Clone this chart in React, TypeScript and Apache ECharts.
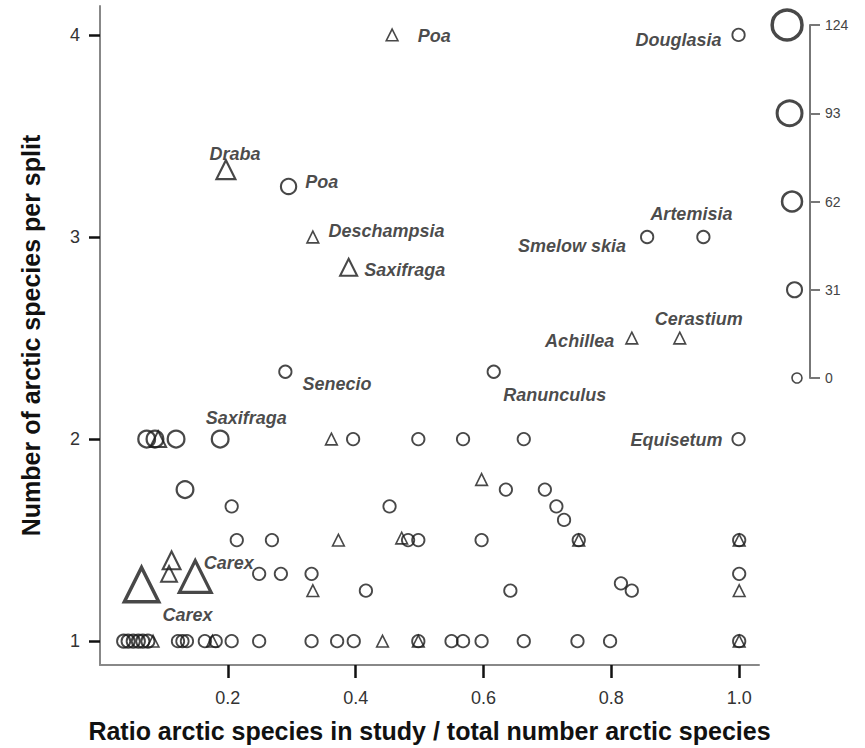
import React, { useEffect, useRef } from "react";
import * as echarts from "echarts";

// ---------- data (x = ratio, y = arctic species per split, n = size value) ----------
const circlePoints: [number, number, number][] = [
  [0.073, 2, 42], [0.086, 2, 42], [0.119, 2, 42], [0.396, 2, 15], [0.498, 2, 15], [0.568, 2, 15], [0.663, 2, 15],
  [0.133, 1.75, 42], [0.635, 1.75, 15], [0.696, 1.75, 15],
  [0.206, 1.667, 15], [0.453, 1.667, 15], [0.714, 1.667, 15],
  [0.726, 1.6, 15],
  [0.214, 1.5, 15], [0.269, 1.5, 15], [0.482, 1.5, 15], [0.498, 1.5, 15], [0.597, 1.5, 15], [0.749, 1.5, 15], [1.0, 1.5, 15],
  [0.249, 1.333, 15], [0.283, 1.333, 15], [0.331, 1.333, 15], [1.0, 1.333, 15],
  [0.815, 1.286, 15],
  [0.416, 1.25, 15], [0.642, 1.25, 15], [0.832, 1.25, 15],
  [0.037, 1, 20], [0.044, 1, 20], [0.052, 1, 20], [0.06, 1, 20], [0.067, 1, 20], [0.075, 1, 20],
  [0.122, 1, 15], [0.129, 1, 15], [0.136, 1, 15], [0.164, 1, 15], [0.181, 1, 15], [0.206, 1, 15],
  [0.249, 1, 15], [0.331, 1, 15], [0.371, 1, 15], [0.397, 1, 15], [0.498, 1, 15], [0.55, 1, 15],
  [0.568, 1, 15], [0.597, 1, 15], [0.663, 1, 15], [0.747, 1, 15], [0.798, 1, 15], [1.0, 1, 15],
];

const trianglePoints: [number, number, number][] = [
  [0.091, 2, 24], [0.362, 2, 1], [0.597, 1.8, 1],
  [0.373, 1.5, 1], [0.472, 1.51, 1], [0.749, 1.5, 1], [1.0, 1.5, 1],
  [0.112, 1.4, 34], [0.108, 1.333, 24],
  [0.333, 1.25, 1], [1.0, 1.25, 1],
  [0.083, 1, 1], [0.176, 1, 1], [0.442, 1, 1], [0.498, 1, 1], [1.0, 1, 1],
];

const labelledCircles: { name: string; x: number; y: number; n: number }[] = [
  { name: "Douglasia", x: 0.999, y: 4, n: 15 },
  { name: "Poa", x: 0.295, y: 3.25, n: 33 },
  { name: "Smelow skia", x: 0.856, y: 3, n: 15 },
  { name: "Artemisia", x: 0.944, y: 3, n: 15 },
  { name: "Senecio", x: 0.29, y: 2.333, n: 15 },
  { name: "Ranunculus", x: 0.616, y: 2.333, n: 15 },
  { name: "Equisetum", x: 0.999, y: 2, n: 15 },
  { name: "Saxifraga", x: 0.188, y: 2, n: 42 },
];

const labelledTriangles: { name: string; x: number; y: number; n: number }[] = [
  { name: "Poa", x: 0.457, y: 4, n: 1 },
  { name: "Draba", x: 0.197, y: 3.333, n: 40 },
  { name: "Deschampsia", x: 0.333, y: 3, n: 1 },
  { name: "Saxifraga", x: 0.389, y: 2.85, n: 30 },
  { name: "Achillea", x: 0.832, y: 2.5, n: 1 },
  { name: "Cerastium", x: 0.907, y: 2.5, n: 1 },
  { name: "Carex", x: 0.149, y: 1.32, n: 110 },
  { name: "Carex", x: 0.065, y: 1.28, n: 124 },
];

const xTicks = [0.2, 0.4, 0.6, 0.8, 1.0];
const yTicks = [1, 2, 3, 4];
const sizeLegendTicks = [0, 31, 62, 93, 124];

const xTitle = "Ratio arctic species in study / total number arctic species";
const yTitle = "Number of arctic species per split";

// ---------- styling ----------
const FONT = "'Liberation Sans', Arial, Helvetica, sans-serif";
const INK = "#1a1a1a";
const circleSize = (n: number) => 10 + n * 0.16;
const triangleSize = (n: number) => (10 + n * 0.16) * 1.15;
const strokeOf = (n: number) => 1.6 + n / 65;

type Place = { position: string; distance: number; offset: [number, number] };
const circlePlacement: Place[] = [
  { position: "left", distance: 10, offset: [0, 5] },
  { position: "right", distance: 8, offset: [0, -4] },
  { position: "left", distance: 14, offset: [0, 9] },
  { position: "top", distance: 8, offset: [-12, 1] },
  { position: "right", distance: 10, offset: [0, 12] },
  { position: "bottom", distance: 5, offset: [61, 2] },
  { position: "left", distance: 9, offset: [0, 1] },
  { position: "top", distance: 8, offset: [26, 5] },
];
const trianglePlacement: Place[] = [
  { position: "right", distance: 19, offset: [0, 1] },
  { position: "top", distance: 2, offset: [9, 6] },
  { position: "right", distance: 9, offset: [0, -6] },
  { position: "right", distance: 6, offset: [0, 3] },
  { position: "left", distance: 11, offset: [0, 3] },
  { position: "top", distance: 5, offset: [19, 2] },
  { position: "right", distance: 0, offset: [-9, -13] },
  { position: "bottom", distance: 1, offset: [46, 2] },
];

const labelText = {
  fontFamily: FONT,
  fontWeight: "bold" as const,
  fontStyle: "italic" as const,
  fontSize: 18,
  color: INK,
};

export default function App() {
  const ref = useRef<HTMLDivElement>(null);

  useEffect(() => {
    if (!ref.current) return;
    const chart = echarts.init(ref.current, undefined, { renderer: "svg" });

    const markerStyle = { color: "rgba(0,0,0,0)", borderColor: INK };

    const plain = (pts: [number, number, number][], sz: (n: number) => number) =>
      pts.map(([x, y, n]) => ({
        value: [x, y, n],
        symbolSize: sz(n),
        itemStyle: { borderWidth: strokeOf(n) },
      }));

    const labelled = (
      pts: { name: string; x: number; y: number; n: number }[],
      places: Place[],
      sz: (n: number) => number
    ) =>
      pts.map((p, i) => ({
        name: p.name,
        value: [p.x, p.y, p.n],
        symbolSize: sz(p.n),
        itemStyle: { borderWidth: strokeOf(p.n) },
        label: {
          show: true,
          formatter: p.name,
          position: places[i].position,
          distance: places[i].distance,
          offset: places[i].offset,
          ...labelText,
        },
      }));

    const option: any = {
      animation: false,
      backgroundColor: "#fff",
      textStyle: { fontFamily: FONT },
      grid: [
        { left: 100, top: 6, width: 659, height: 662 },
        { left: 810, top: 25, width: 30, height: 353 },
      ],
      xAxis: [
        {
          type: "value",
          gridIndex: 0,
          min: 0,
          max: 1.031,
          name: xTitle,
          nameLocation: "middle",
          nameGap: 53,
          nameTextStyle: { fontFamily: FONT, fontWeight: "bold", fontSize: 25, color: "#111" },
          axisLine: { show: true, onZero: false, lineStyle: { color: "#888", width: 2 } },
          axisTick: { show: true, length: 13, customValues: xTicks, lineStyle: { color: "#111", width: 2.5 } },
          axisLabel: {
            customValues: xTicks,
            margin: 24,
            fontSize: 18,
            color: "#333",
            fontFamily: FONT,
            formatter: (v: number) => v.toFixed(1),
          },
          splitLine: { show: false },
        },
        { type: "value", gridIndex: 1, min: 0, max: 1, show: false },
      ],
      yAxis: [
        {
          type: "value",
          gridIndex: 0,
          min: 0.882,
          max: 4.143,
          name: yTitle,
          nameLocation: "middle",
          nameRotate: 90,
          nameGap: 57,
          nameTextStyle: { fontFamily: FONT, fontWeight: "bold", fontSize: 25, color: "#111" },
          axisLine: { show: true, onZero: false, lineStyle: { color: "#888", width: 2 } },
          axisTick: { show: true, length: 11, customValues: yTicks, lineStyle: { color: "#111", width: 2.5 } },
          axisLabel: {
            customValues: yTicks,
            margin: 20,
            fontSize: 18,
            color: "#333",
            fontFamily: FONT,
            formatter: (v: number) => String(Math.round(v)),
          },
          splitLine: { show: false },
        },
        {
          type: "value",
          gridIndex: 1,
          position: "left",
          min: 0,
          max: 124,
          interval: 31,
          axisLine: { show: true, lineStyle: { color: "#777", width: 2 } },
          axisTick: { show: true, inside: true, length: 10, lineStyle: { color: "#777", width: 2 } },
          axisLabel: { inside: true, margin: 15, fontSize: 14, color: "#444", fontFamily: FONT },
          splitLine: { show: false },
        },
      ],
      series: [
        {
          type: "scatter",
          xAxisIndex: 0,
          yAxisIndex: 0,
          symbol: "circle",
          itemStyle: markerStyle,
          silent: true,
          data: plain(circlePoints, circleSize),
        },
        {
          type: "scatter",
          xAxisIndex: 0,
          yAxisIndex: 0,
          symbol: "triangle",
          itemStyle: markerStyle,
          silent: true,
          data: plain(trianglePoints, triangleSize),
        },
        {
          type: "scatter",
          xAxisIndex: 0,
          yAxisIndex: 0,
          symbol: "circle",
          itemStyle: markerStyle,
          silent: true,
          data: labelled(labelledCircles, circlePlacement, circleSize),
        },
        {
          type: "scatter",
          xAxisIndex: 0,
          yAxisIndex: 0,
          symbol: "triangle",
          itemStyle: markerStyle,
          silent: true,
          data: labelled(labelledTriangles, trianglePlacement, triangleSize),
        },
        {
          type: "scatter",
          xAxisIndex: 1,
          yAxisIndex: 1,
          symbol: "circle",
          clip: false,
          itemStyle: markerStyle,
          silent: true,
          data: sizeLegendTicks.map((v) => ({
            value: [0, v],
            symbolSize: circleSize(v),
            symbolOffset: [-(8 + circleSize(v) / 2), 0],
            itemStyle: { borderWidth: strokeOf(v) },
          })),
        },
      ],
    };

    chart.setOption(option);
    return () => chart.dispose();
  }, []);

  return (
    <div
      ref={ref}
      style={{ position: "fixed", left: 0, top: 0, width: 865, height: 748, background: "#fff" }}
    />
  );
}
